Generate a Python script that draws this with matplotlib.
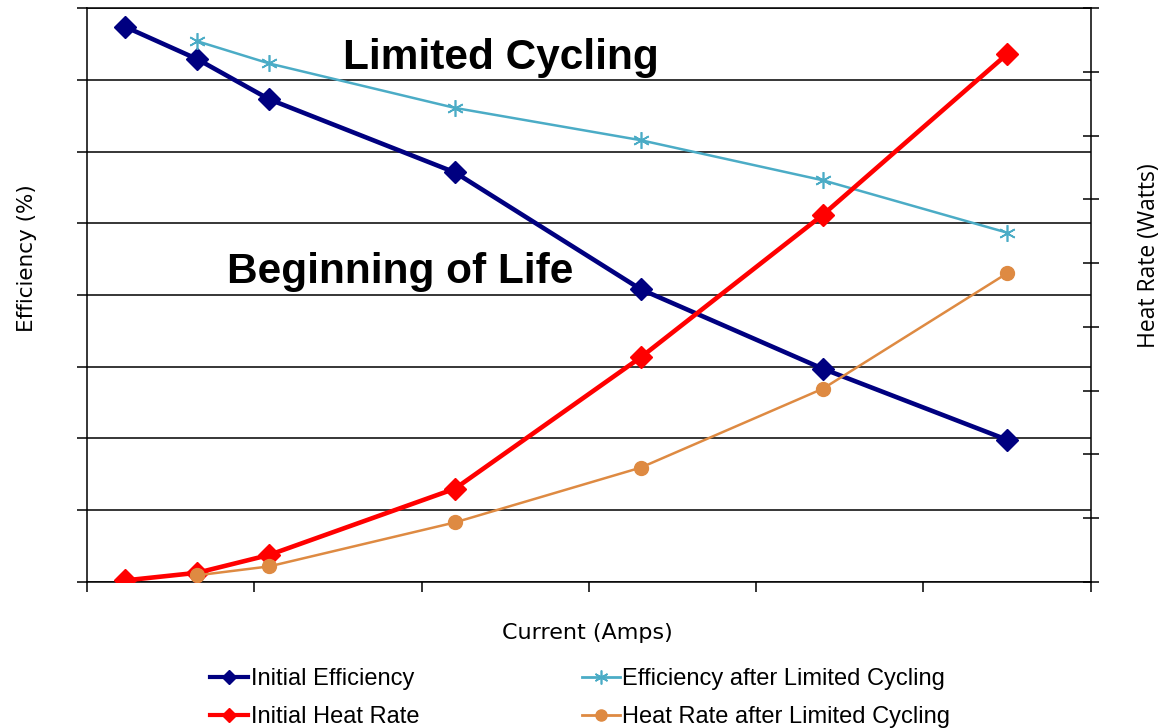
import numpy as np
import matplotlib.pyplot as plt
from matplotlib.lines import Line2D

# data (x in arbitrary current units)
current_init = [2.3, 6.6, 10.9, 22.0, 33.1, 44.0, 55.0]
current_cyc = [6.6, 10.9, 22.0, 33.1, 44.0, 55.0]
eff_init = [77.4, 72.9, 67.3, 57.1, 40.8, 29.7, 19.8]
eff_cyc = [75.4, 72.3, 66.1, 61.6, 56.0, 48.7]
heat_init = [0.2, 1.4, 4.2, 14.6, 35.2, 57.6, 82.8]
heat_cyc = [1.0, 2.4, 9.3, 17.9, 30.3, 48.4]

navy = '#000080'
teal = '#4BACC6'
red = '#FF0000'
orange = '#DE8A42'

fig = plt.figure(figsize=(11.61, 7.28), dpi=100)
ax = fig.add_axes([0.0749, 0.2010, 0.8645, 0.7876])
ax2 = ax.twinx()

ax.set_xlim(0, 60)
ax.set_ylim(0, 80)
ax2.set_ylim(0, 90)
ax.set_xticks(np.arange(0, 61, 10))
ax.set_yticks(np.arange(0, 81, 10))
ax2.set_yticks(np.arange(0, 91, 10))
ax.set_xticklabels([])
ax.set_yticklabels([])
ax2.set_yticklabels([])
ax.grid(axis='y', color='black', lw=1.1)
ax.tick_params(axis='both', direction='out', length=7, width=1.1, color='black')
ax2.tick_params(axis='y', direction='inout', length=12, width=1.1, color='black')
for a in (ax, ax2):
    a.spines['top'].set_visible(False)
    for s in ('left', 'right', 'bottom'):
        a.spines[s].set_linewidth(1.1)
        a.spines[s].set_color('black')
ax.spines['right'].set_visible(False)
ax2.spines['left'].set_visible(False)
ax2.spines['bottom'].set_visible(False)
# top grid line stretches out like a tick
ax.axhline(80, color='black', lw=1.1, clip_on=False)

ax.plot(current_init, eff_init, color=navy, lw=3.3, marker='D', ms=11, zorder=3)
ax.plot(current_cyc, eff_cyc, color=teal, lw=1.8, marker=(6, 2, 0), ms=12,
        mew=1.2, zorder=3)
ax2.plot(current_init, heat_init, color=red, lw=3.3, marker='D', ms=11, zorder=3)
ax2.plot(current_cyc, heat_cyc, color=orange, lw=1.8, marker='o', ms=10, zorder=3)

fig.text(0.431, 0.920, 'Limited Cycling', fontsize=30.5, fontweight='bold',
         family='Liberation Sans', ha='center', va='center')
fig.text(0.345, 0.627, 'Beginning of Life', fontsize=30.5, fontweight='bold',
         family='Liberation Sans', ha='center', va='center')

fig.text(0.023, 0.645, 'Efficiency (%)', rotation=90, fontsize=15.5,
         family='DejaVu Sans', ha='center', va='center')
fig.text(0.990, 0.649, 'Heat Rate (Watts)', rotation=90, fontsize=16.5,
         family='Open Sans', ha='center', va='center')
fig.text(0.506, 0.130, 'Current (Amps)', fontsize=16,
         family='DejaVu Sans', ha='center', va='center')

handles = [
    Line2D([], [], color=navy, lw=3, marker='D', ms=7),
    Line2D([], [], color=red, lw=3, marker='D', ms=7),
    Line2D([], [], color=teal, lw=2, marker=(6, 2, 0), ms=10, mew=1.2),
    Line2D([], [], color=orange, lw=2, marker='o', ms=8),
]
labels = ['Initial Efficiency', 'Initial Heat Rate',
          'Efficiency after Limited Cycling', 'Heat Rate after Limited Cycling']
fig.legend(handles, labels, ncol=2, frameon=False, loc='center left',
           bbox_to_anchor=(0.163, 0.041), handlelength=1.6,
           handletextpad=0.1, columnspacing=6.9, labelspacing=0.65,
           prop={'family': ['Liberation Sans Narrow', 'Liberation Sans'], 'size': 17})

fig.savefig('out.png', dpi=100)
